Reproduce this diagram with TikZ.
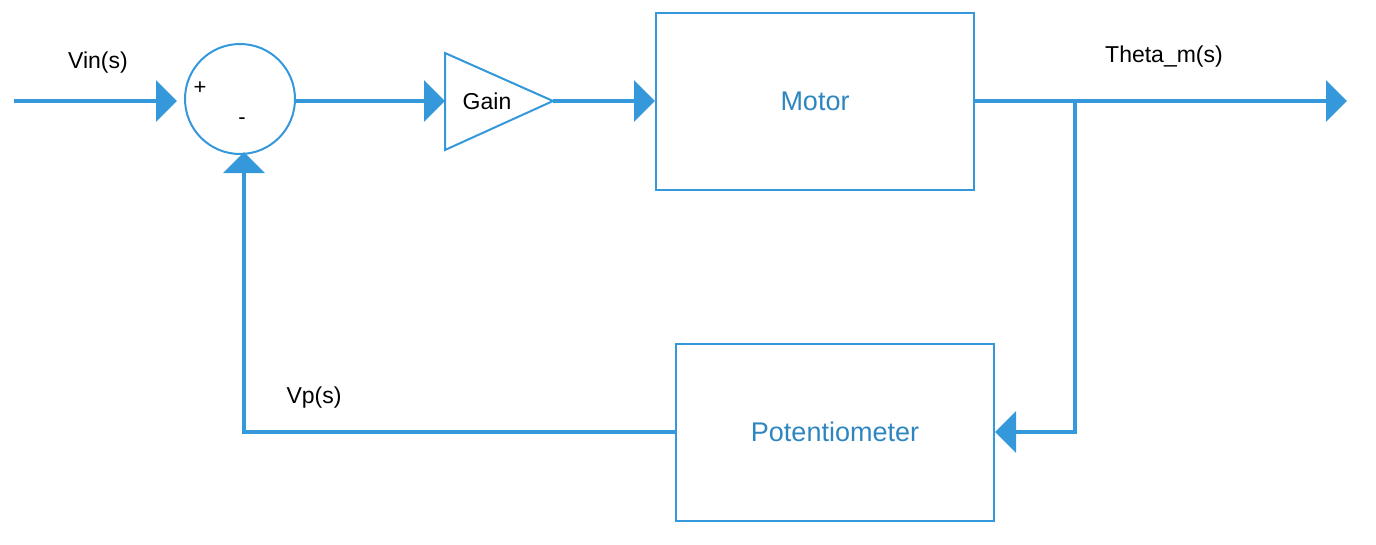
\documentclass[tikz,border=0pt]{standalone}
\usepackage{fontspec}
\setmainfont{Liberation Sans}
\usepackage{xcolor}
\usetikzlibrary{calc}
\usetikzlibrary{arrows.meta}

\definecolor{wire}{RGB}{52,152,219}
\definecolor{boxtext}{RGB}{46,134,193}

\tikzset{
	flow/.style={line width=4pt, draw=wire, -{Triangle[length=21pt,width=41pt]}},
	block/.style={draw=wire, line width=2pt, minimum width=318pt, minimum height=177pt,
		text=boxtext, font=\fontsize{27}{32}\selectfont},
	lbl/.style={text=black, font=\fontsize{23}{27}\selectfont},
	sign/.style={text=black, font=\fontsize{22}{26}\selectfont}
}

\begin{document}
\begin{tikzpicture}[x=1pt, y=-1pt]

	\useasboundingbox (0,0) rectangle (1376,544);

	% Blocchi
	\node[draw=wire, line width=2pt, circle, minimum size=110pt, inner sep=0pt] (sum) at (240,99) {};
	\node[sign] (plus) at (200,88) {+};
	\node[sign] (minus) at (242,121) {-};

	\coordinate[](gin) at (445,101);
	\coordinate[](gout) at (553,101);
	\draw[draw=wire, line width=2pt, line join=miter]
	(445,53) -- (gout) -- (445,150) -- cycle;
	\node[lbl] (gain) at (487,101) {Gain};

	\node[block] (motor) at (815,101) {Motor};
	\node[block] (pot) at (835,432) {Potentiometer};

	% Segnali
	\coordinate[](vin) at (14,101);
	\coordinate[](sin) at (177,101);
	\coordinate[](sfb) at (244,152);
	\coordinate[](out) at (1347,101);
	\coordinate[](br) at (1075,101);

	\draw[flow] (vin) -- (sin);
	\draw[flow] (sum.east |- gin) -- (gin);
	\draw[flow] (gout) -- (motor.west);
	\draw[flow] (motor.east) -- (out);
	\draw[flow] (br) |- (pot.east);
	\draw[flow] (pot.west) -| (sfb);

	%% Etichette
	\node[lbl] (lvin) at (98,63) {Vin(s)};
	\node[lbl] (ltheta) at (1164,57) {Theta\_m(s)};
	\node[lbl] (lvp) at (314,398) {Vp(s)};

\end{tikzpicture}
\end{document}
